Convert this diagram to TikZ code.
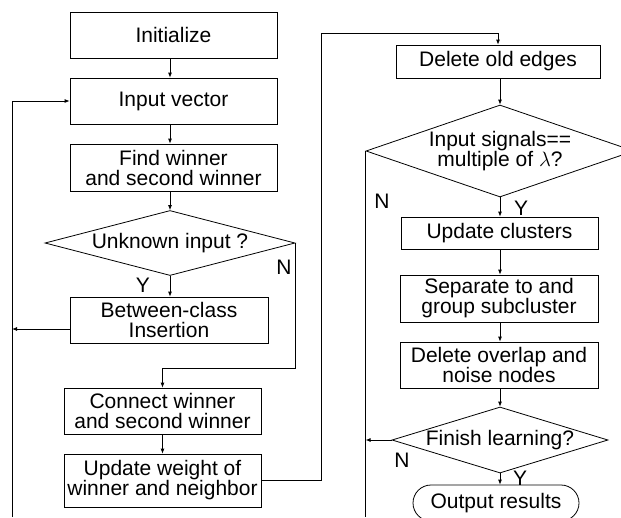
\documentclass[tikz,border=0pt]{standalone}
\usepackage{fontspec}
\setmainfont{Liberation Sans}
\usetikzlibrary{shapes.geometric,arrows.meta}
\begin{document}
\begin{tikzpicture}[x=1pt,y=-1pt,
 line width=0.8pt,
 every node/.style={font=\fontsize{21}{20}\selectfont},
 box/.style={draw,rectangle,inner sep=0pt,align=center},
 dia/.style={draw,diamond,inner sep=0pt},
 txt/.style={inner sep=0pt,align=center},
 lbl/.style={inner sep=0pt},
 arr/.style={-{Latex[length=5pt,width=4pt]}},
]
\useasboundingbox[fill=white] (0,0) rectangle (621,517);
% left column
\node[box,minimum width=207pt,minimum height=46pt] (init) at (173.5,35) {Initialize};
\node[box,minimum width=207pt,minimum height=46pt] (input) at (173.5,101) {Input vector};
\node[box,minimum width=207pt,minimum height=47pt] (find) at (173.5,167.5) {Find winner\\and second winner};
\node[dia,minimum width=250pt,minimum height=65pt] (unk) at (170,243) {};
\node[txt] (unkt) at (170,243) {Unknown input ?};
\node[box,minimum width=198pt,minimum height=46pt] (betw) at (169,320) {Between-class\\Insertion};
\node[box,minimum width=197pt,minimum height=46pt] (conn) at (162.5,411) {Connect winner\\and second winner};
\node[box,minimum width=197pt,minimum height=53pt] (upd) at (162.5,480.5) {Update weight of\\winner and neighbor};
% right column
\node[box,minimum width=204pt,minimum height=33pt] (dele) at (498,61.5) {Delete old edges};
\node[dia,minimum width=268pt,minimum height=92pt] (sig) at (500,151) {};
\node[txt] (sigt) at (500,151) {Input signals==\\multiple of $\lambda$?};
\node[box,minimum width=197pt,minimum height=32pt] (clu) at (499.5,233) {Update clusters};
\node[box,minimum width=198pt,minimum height=47pt] (sep) at (499,298.5) {Separate to and\\group subcluster};
\node[box,minimum width=198pt,minimum height=46pt] (ovl) at (499,365) {Delete overlap and\\noise nodes};
\node[dia,minimum width=216pt,minimum height=66pt] (fin) at (500,440) {};
\node[txt] (fint) at (500,440) {Finish learning?};
\node[draw,rounded corners=18pt,minimum width=166pt,minimum height=36pt,inner sep=0pt] (out) at (496,503) {Output results};
% labels
\node[lbl] (y1) at (143,285) {Y};
\node[lbl] (n1) at (284,267) {N};
\node[lbl] (n2) at (382,201) {N};
\node[lbl] (y2) at (521,208) {Y};
\node[lbl] (n3) at (402,460) {N};
\node[lbl] (y3) at (520,478) {Y};
% coordinates
\coordinate (lb) at (12,517);
\coordinate (bw) at (70,329);
\coordinate (top) at (321,33);
% connectors
\draw[arr] (init.south -| unk.north) -- (input.north -| unk.north);
\draw[arr] (input.south -| unk.north) -- (find.north -| unk.north);
\draw[arr] (find.south -| unk.north) -- (unk.north);
\draw[arr] (unk.south) -- (betw.north -| unk.south);
\draw[arr] (unk.east) -- ++(0,125) -| (conn.north);
\draw[arr] (conn.south) -- (upd.north);
\draw[arr] (bw) -- (bw -| lb);
\draw[arr] (lb) |- (input.west);
\draw[arr] (upd.east) -| (top) -| (dele.north);
\draw[arr] (dele.south -| sig.north) -- (sig.north);
\draw (sig.west) -- (sig.west |- lb);
\draw[arr] (sig.south) -- (clu.north -| sig.south);
\draw[arr] (clu.south -| sig.south) -- (sep.north -| sig.south);
\draw[arr] (sep.south -| sig.south) -- (ovl.north -| sig.south);
\draw[arr] (ovl.south -| fin.north) -- (fin.north);
\draw[arr] (fin.west) -- (fin.west -| sig.west);
\draw[arr] (fin.south) -- (fin.south |- out.north);
\end{tikzpicture}
\end{document}
